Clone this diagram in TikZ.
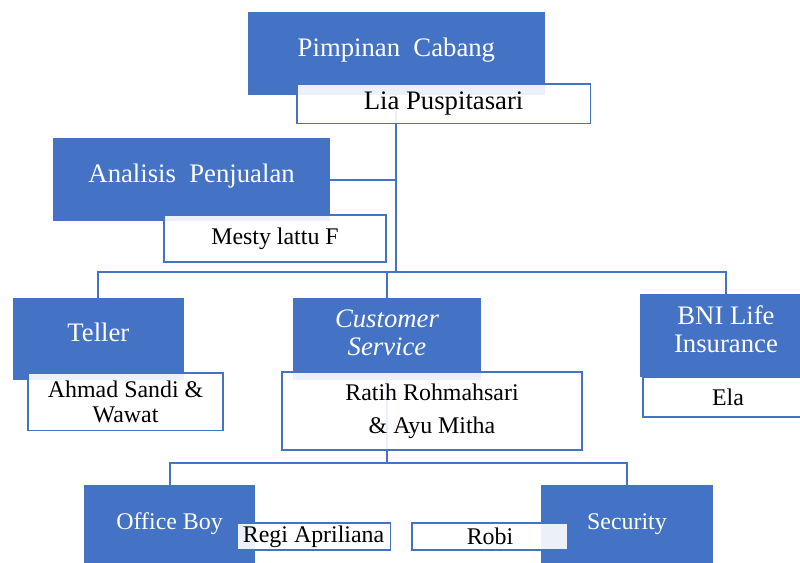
\documentclass[tikz,border=0pt]{standalone}
\usepackage{fontspec}
\setmainfont{Liberation Serif}
\usepackage{tikz}
\usetikzlibrary{positioning, calc}

\definecolor{biru}{HTML}{4472C4}

\tikzset{
    jabatan/.style={fill=biru, text=white, inner sep=0pt, align=center, text depth=0.33cm, font=\fontsize{19}{20}\selectfont},
    nama/.style={draw=biru, line width=1pt, fill=white, fill opacity=0.9, text opacity=1, inner sep=0pt, align=center, font=\fontsize{17}{17.5}\selectfont},
    garis/.style={draw=biru, line width=1.3pt}
}

\begin{document}
\begin{tikzpicture}
    \useasboundingbox (0,0) rectangle (20,-14.05);
    \clip (0,0) rectangle (20,-14.05);

    % jabatan
    \node[jabatan, minimum width=7.43cm, minimum height=2.08cm] at (9.91, -1.34) (pimpinan) {Pimpinan\ \ Cabang};
    \node[jabatan, minimum width=6.93cm, minimum height=2.08cm] at (4.79, -4.49) (analisis) {Analisis\ \ Penjualan};
    \node[jabatan, minimum width=4.28cm, minimum height=2.05cm] at (2.46, -8.475) (teller) {Teller};
    \node[jabatan, minimum width=4.7cm, minimum height=2.05cm] at (9.675, -8.475) (cs) {\itshape Customer\\ \itshape Service};
    \node[jabatan, minimum width=4.3cm, minimum height=2.08cm] at (18.15, -8.39) (bni) {BNI Life\\ Insurance};
    \node[jabatan, minimum width=4.28cm, minimum height=2.0cm, text depth=0.18cm, font=\fontsize{17}{17.5}\selectfont] at (4.24, -13.125) (officeboy) {Office Boy};
    \node[jabatan, minimum width=4.3cm, minimum height=2.0cm, text depth=0.18cm, font=\fontsize{17}{17.5}\selectfont] at (15.675, -13.125) (security) {Security};

    % garis
    \coordinate (hub) at (pimpinan.south |- 0,-6.8);
    \coordinate (hub2) at (cs.south |- 0,-11.575);
    \draw[garis] (pimpinan.south) -- (hub);
    \draw[garis] (analisis.east) -- (analisis.east -| hub);
    \draw[garis] (teller.north) |- (bni.north |- hub) -- (bni.north);
    \draw[garis] (cs.north) -- (cs.north |- hub);
    \draw[garis] (cs.south) -- (hub2);
    \draw[garis] (officeboy.north) |- (security.north |- hub2) -- (security.north);

    % nama
    \node[nama, minimum width=7.33cm, minimum height=0.98cm, font=\fontsize{19}{20}\selectfont] at (11.09, -2.59) (lia) {Lia Puspitasari};
    \node[nama, minimum width=5.55cm, minimum height=1.18cm] at (6.875, -5.96) (mesty) {Mesty lattu F};
    \node[nama, minimum width=4.88cm, minimum height=1.43cm] at (3.14, -10.04) (ahmad) {Ahmad Sandi \&\\ Wawat};
    \node[nama, minimum width=7.5cm, minimum height=1.95cm] at (10.8, -10.275) (ratih) {Ratih Rohmahsari\\[6pt] \& Ayu Mitha};
    \node[nama, minimum width=4.25cm, minimum height=1.0cm] at (18.2, -9.925) (ela) {Ela};
    \node[nama, minimum width=3.83cm, minimum height=0.68cm] at (7.84, -13.41) (regi) {Regi Apriliana};
    \node[nama, minimum width=3.9cm, minimum height=0.68cm] at (12.25, -13.41) (robi) {Robi};

\end{tikzpicture}
\end{document}
